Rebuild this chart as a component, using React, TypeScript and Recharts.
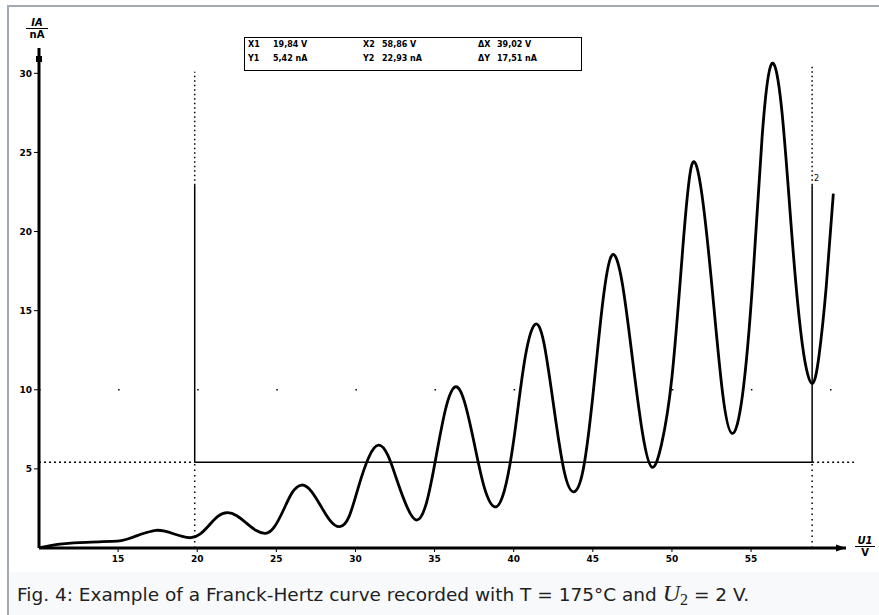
import React from 'react'
import {
  LineChart,
  Line,
  XAxis,
  YAxis,
  ReferenceLine,
  ReferenceDot,
} from 'recharts'

// accelerating voltage U1 in V
const voltage = [
  10.0, 10.4, 10.9, 11.5, 12.2, 13.0, 13.8, 14.6, 15.2, 15.7, 16.2, 16.8, 17.4,
  17.95, 18.5, 19.05, 19.6,
  20.15, 20.75, 21.3, 21.9,
  22.5, 23.1, 23.7, 24.3,
  24.85, 25.45, 26.0, 26.6,
  27.2, 27.8, 28.4, 29.0,
  29.6, 30.2, 30.85, 31.45,
  32.05, 32.65, 33.3, 33.9,
  34.5, 35.1, 35.7, 36.3,
  36.9, 37.55, 38.15, 38.8,
  39.4, 40.0, 40.65, 41.3,
  41.9, 42.55, 43.2, 43.8,
  44.4, 45.0, 45.6, 46.2,
  46.85, 47.5, 48.15, 48.75,
  49.35, 50.0, 50.65, 51.25,
  51.9, 52.55, 53.2, 53.8,
  54.45, 55.1, 55.7, 56.3,
  56.95, 57.6, 58.25, 58.85,
  59.3, 59.75, 60.2,
]

// anode current IA in nA
const current = [
  0.0, 0.08, 0.18, 0.26, 0.32, 0.36, 0.39, 0.42, 0.47, 0.6, 0.78, 0.98, 1.12,
  1.06, 0.9, 0.73, 0.65,
  0.86, 1.44, 2.0, 2.23,
  2.04, 1.58, 1.12, 0.93,
  1.3, 2.4, 3.5, 3.98,
  3.6, 2.67, 1.73, 1.35,
  2.0, 3.9, 5.75, 6.5,
  5.85, 4.2, 2.5, 1.77,
  2.9, 5.8, 8.8, 10.18,
  9.2, 6.4, 3.8, 2.6,
  3.6, 6.8, 11.6, 14.08,
  13.0, 8.8, 4.8, 3.55,
  5.0, 9.6, 15.3, 18.5,
  16.8, 12.0, 7.2, 5.1,
  6.6, 10.8, 18.5, 24.2,
  22.3, 16.3, 9.8, 7.24,
  9.6, 16.8, 26.0, 30.6,
  27.6, 19.5, 12.8, 10.4,
  12.2, 16.5, 22.4,
]

const xTicks = [15, 20, 25, 30, 35, 40, 45, 50, 55]
const yTicks = [5, 10, 15, 20, 25, 30]

// measurement cursors
const cursorX = [19.84, 58.86]
const cursorY = [5.42, 22.93]
const cursorTop = [30.1, 30.5]

const readoutTop = [
  ['X1', '19,84 V'],
  ['X2', '58,86 V'],
  ['ΔX', '39,02 V'],
]
const readoutBottom = [
  ['Y1', '5,42 nA'],
  ['Y2', '22,93 nA'],
  ['ΔY', '17,51 nA'],
]
const readoutCols = [247, 362, 477]

const data = voltage.map((u, i) => ({ u, ia: current[i] }))

const tickFont = { fontFamily: 'DejaVu Sans', fontSize: 9, fontWeight: 'bold', fill: '#000' }

const RightArrow = (p: any) => (
  <path d={`M${p.cx - 10},${p.cy - 3.5} L${p.cx},${p.cy} L${p.cx - 10},${p.cy + 3.5} Z`} fill="#000" />
)
const UpArrow = (p: any) => (
  <rect x={p.cx - 3} y={p.cy + 8} width={6} height={6} fill="#000" />
)

export default function App() {
  return (
    <div
      style={{
        position: 'absolute',
        left: 0,
        top: 0,
        width: 879,
        height: 615,
        background: '#fff',
        overflow: 'hidden',
      }}
    >
      {/* frame of the figure */}
      <div
        style={{
          position: 'absolute',
          left: 7,
          top: 5,
          width: 880,
          height: 620,
          borderLeft: '2px solid #a2a9b1',
          borderTop: '2px solid #a2a9b1',
        }}
      />

      <div style={{ position: 'absolute', left: 0, top: 0 }}>
        <LineChart
          width={879}
          height={615}
          data={data}
          margin={{ top: 48, right: 33, left: 9, bottom: 37 }}
        >
          <XAxis
            type="number"
            dataKey="u"
            domain={[10, 61]}
            ticks={xTicks}
            allowDataOverflow
            height={30}
            axisLine={{ stroke: '#000', strokeWidth: 3 }}
            tickLine={{ stroke: '#000', strokeWidth: 1 }}
            tickSize={4}
            tickMargin={4}
            tick={tickFont}
          />
          <YAxis
            type="number"
            domain={[0, 31.6]}
            ticks={yTicks}
            allowDataOverflow
            width={30}
            axisLine={{ stroke: '#000', strokeWidth: 3 }}
            tickLine={{ stroke: '#000', strokeWidth: 1 }}
            tickSize={5}
            tickMargin={2}
            tick={tickFont}
          />

          {/* sparse dotted grid at 10 nA */}
          <ReferenceLine
            y={10}
            stroke="#000"
            strokeWidth={1.5}
            strokeDasharray="1.5 77.6"
          />

          {/* cursor 1 */}
          <ReferenceLine
            segment={[{ x: cursorX[0], y: cursorY[0] }, { x: cursorX[0], y: cursorY[1] }]}
            stroke="#000"
            strokeWidth={1.5}
          />
          <ReferenceLine
            segment={[{ x: cursorX[0], y: cursorY[1] }, { x: cursorX[0], y: cursorTop[0] }]}
            stroke="#000"
            strokeWidth={1.5}
            strokeDasharray="1.5 3"
          />
          <ReferenceLine
            segment={[{ x: cursorX[0], y: 0 }, { x: cursorX[0], y: cursorY[0] }]}
            stroke="#000"
            strokeWidth={1.5}
            strokeDasharray="1.5 4"
          />
          {/* cursor 2 */}
          <ReferenceLine
            segment={[{ x: cursorX[1], y: cursorY[0] }, { x: cursorX[1], y: cursorY[1] }]}
            stroke="#000"
            strokeWidth={1.5}
          />
          <ReferenceLine
            segment={[{ x: cursorX[1], y: cursorY[1] }, { x: cursorX[1], y: cursorTop[1] }]}
            stroke="#000"
            strokeWidth={1.5}
            strokeDasharray="1.5 3"
          />
          <ReferenceLine
            segment={[{ x: cursorX[1], y: 0 }, { x: cursorX[1], y: cursorY[0] }]}
            stroke="#000"
            strokeWidth={1.5}
            strokeDasharray="1.5 4"
          />
          {/* horizontal cursor */}
          <ReferenceLine
            segment={[{ x: 10, y: cursorY[0] }, { x: cursorX[0], y: cursorY[0] }]}
            stroke="#000"
            strokeWidth={1.5}
            strokeDasharray="2 3"
          />
          <ReferenceLine
            segment={[{ x: cursorX[0], y: cursorY[0] }, { x: cursorX[1], y: cursorY[0] }]}
            stroke="#000"
            strokeWidth={1.5}
          />
          <ReferenceLine
            segment={[{ x: cursorX[1], y: cursorY[0] }, { x: 61.5, y: cursorY[0] }]}
            stroke="#000"
            strokeWidth={1.5}
            strokeDasharray="2 3"
            ifOverflow="visible"
          />

          <Line
            type="natural"
            dataKey="ia"
            stroke="#000"
            strokeWidth={2.8}
            dot={false}
            isAnimationActive={false}
          />

          <ReferenceDot x={61} y={0} r={0} ifOverflow="visible" shape={RightArrow} />
          <ReferenceDot x={10} y={31.6} r={0} ifOverflow="visible" shape={UpArrow} />
        </LineChart>
      </div>

      {/* axis labels */}
      <div
        style={{
          position: 'absolute',
          left: 26,
          top: 17,
          width: 22,
          fontFamily: 'DejaVu Sans',
          fontSize: 10,
          fontWeight: 'bold',
          lineHeight: '11px',
          textAlign: 'center',
        }}
      >
        <div style={{ borderBottom: '1.5px solid #000', fontStyle: 'italic' }}>IA</div>
        <div>nA</div>
      </div>
      <div
        style={{
          position: 'absolute',
          left: 855,
          top: 535,
          width: 20,
          fontFamily: 'DejaVu Sans',
          fontSize: 10,
          fontWeight: 'bold',
          lineHeight: '11px',
          textAlign: 'center',
        }}
      >
        <div style={{ borderBottom: '1.5px solid #000', fontStyle: 'italic' }}>U1</div>
        <div>V</div>
      </div>

      {/* cursor marker */}
      <div
        style={{
          position: 'absolute',
          left: 814,
          top: 174,
          fontFamily: 'DejaVu Sans',
          fontSize: 8,
        }}
      >
        2
      </div>

      {/* cursor readout box */}
      <div
        style={{
          position: 'absolute',
          left: 244,
          top: 37,
          width: 336,
          height: 32,
          border: '1.5px solid #000',
          background: '#fff',
          fontFamily: 'DejaVu Sans',
          fontSize: 8,
          fontWeight: 'bold',
        }}
      >
        {[readoutTop, readoutBottom].map((row, r) =>
          row.map((cell, c) => (
            <React.Fragment key={`${r}-${c}`}>
              <span
                style={{
                  position: 'absolute',
                  left: readoutCols[c] - 244,
                  top: 2 + r * 14,
                }}
              >
                {cell[0]}
              </span>
              <span
                style={{
                  position: 'absolute',
                  left: readoutCols[c] - 244 + (c === 0 ? 25 : 19),
                  top: 2 + r * 14,
                }}
              >
                {cell[1]}
              </span>
            </React.Fragment>
          ))
        )}
      </div>

      {/* caption */}
      <div
        style={{
          position: 'absolute',
          left: 9,
          top: 572,
          width: 870,
          height: 43,
          background: '#f8f9fa',
          fontFamily: 'DejaVu Sans',
          fontSize: 18.5,
          color: '#202122',
          lineHeight: '43px',
          paddingLeft: 8,
          boxSizing: 'border-box',
          whiteSpace: 'nowrap',
        }}
      >
        Fig. 4: Example of a Franck-Hertz curve recorded with T = 175°C and{' '}
        <span style={{ fontFamily: 'Liberation Serif', fontStyle: 'italic', fontSize: 24 }}>U</span>
        <span style={{ fontFamily: 'Liberation Serif', fontSize: 16, verticalAlign: -4 }}>2</span>
        {'  '}= 2 V.
      </div>
    </div>
  )
}
